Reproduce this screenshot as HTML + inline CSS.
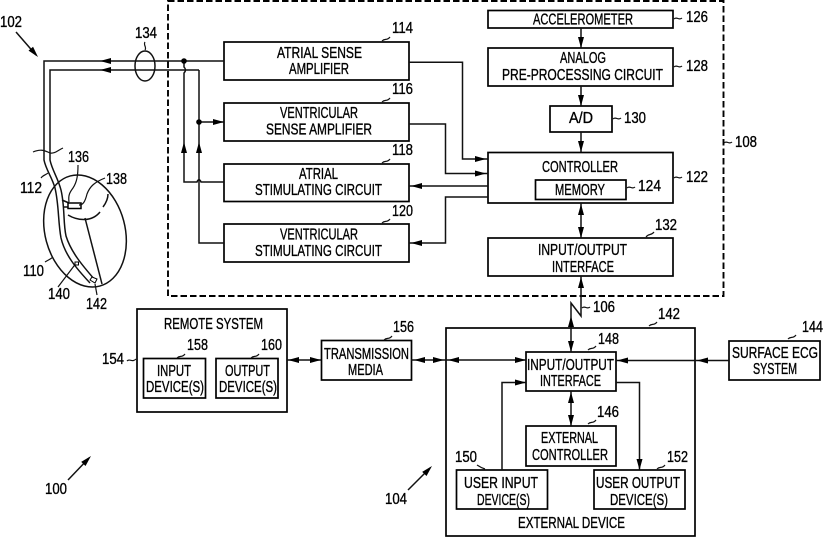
<!DOCTYPE html>
<html>
<head>
<meta charset="utf-8">
<style>
html,body{margin:0;padding:0;background:#fff;}
svg{display:block;}
text{font-family:"Liberation Sans",sans-serif;font-size:16px;fill:#000;stroke:#000;stroke-width:.35;}
.b{fill:none;stroke:#000;stroke-width:1.7;}
.l{fill:none;stroke:#111;stroke-width:1.5;}
.t{fill:none;stroke:#111;stroke-width:1.2;}
</style>
</head>
<body>
<svg width="824" height="537" viewBox="0 0 824 537" xmlns="http://www.w3.org/2000/svg">
<defs><polygon id="h" points="0,0 -11,-3 -11,3" fill="#000"/></defs>

<!-- dashed enclosure -->
<rect x="168" y="1" width="555.5" height="295" fill="none" stroke="#000" stroke-width="1.9" stroke-dasharray="6.5 3"/>

<!-- boxes -->
<rect class="b" x="224" y="42" width="185" height="38"/>
<rect class="b" x="224" y="103" width="185" height="38"/>
<rect class="b" x="224" y="164" width="185" height="37.5"/>
<rect class="b" x="224" y="224" width="185" height="38"/>
<rect class="b" x="488" y="10.5" width="185" height="17.5"/>
<rect class="b" x="488" y="48" width="185" height="38"/>
<rect class="b" x="550" y="106" width="62" height="26"/>
<rect class="b" x="488" y="152.5" width="185" height="50.5"/>
<rect class="b" x="535.5" y="180" width="90.5" height="19.5"/>
<rect class="b" x="488" y="238" width="185" height="38"/>
<rect class="b" x="446" y="328" width="249" height="208"/>
<rect class="b" x="526" y="352" width="90" height="39"/>
<rect class="b" x="526" y="426" width="90" height="40"/>
<rect class="b" x="456.5" y="470" width="91" height="39"/>
<rect class="b" x="594" y="470" width="91" height="39"/>
<rect class="b" x="729" y="341" width="91" height="39"/>
<rect class="b" x="137" y="309" width="150" height="103"/>
<rect class="b" x="143.5" y="358.5" width="62" height="39.5"/>
<rect class="b" x="216" y="358.5" width="62" height="39.5"/>
<rect class="b" x="321.5" y="340.5" width="90" height="39.5"/>

<!-- lead wires -->
<path class="l" d="M224,61 H44 V160 C46,170 52,177 55,188 C59,205 58,222 61,238 C65,255 76,268 90,283"/>
<path class="l" d="M199,70 H50 V160 C52,170 58,178 61,190 C65,207 63,222 66,236 C71,252 82,265 95,280"/>
<path class="l" d="M184,61 V67 C186,69 186,71 184,73 V182 H197 C198,179 200,179 201,182 H224"/>
<path class="l" d="M199,70 V243 H224"/>
<path class="l" d="M199,122 H224"/>
<circle cx="184" cy="61" r="2.8" fill="#000"/>
<circle cx="199" cy="122" r="2.8" fill="#000"/>
<use href="#h" transform="translate(100,61) rotate(180)"/>
<use href="#h" transform="translate(100,70) rotate(180)"/>
<use href="#h" transform="translate(224,122)"/>
<use href="#h" transform="translate(184,142) rotate(-90)"/>
<use href="#h" transform="translate(199,142) rotate(-90)"/>
<ellipse class="l" cx="145" cy="66" rx="10" ry="15"/>

<!-- heart -->
<ellipse class="l" cx="85" cy="231" rx="40" ry="57" transform="rotate(-15 85 231)"/>
<path class="t" d="M33,152 C40,149 44,150 50,153 C55,154 58,150 63,148"/>
<path class="l" d="M62,200 L69,203 M63,207 L69,207"/>
<rect x="68" y="203" width="13" height="5.5" fill="#fff" stroke="#000" stroke-width="1.5"/>
<path class="t" d="M78,165 C78,175 77,182 73,188 C70,192 68,195 69,202"/>
<path class="t" d="M105,178 C95,182 90,186 87,194 C85,202 83,205 79,205"/>
<path class="l" d="M68,215 C78,221 92,222 100,212"/>
<path class="l" d="M103,207 C106,203 108,198 108,194"/>
<path class="l" d="M85,218 L102,284"/>
<path class="t" d="M58,287 L77,262"/>
<path class="t" d="M97,295 L95,284"/>
<path class="t" d="M41,178 C43,175 46,175 48,173"/>
<path class="t" d="M45,262 C48,260 51,259 53,257"/>
<polygon points="90,280 95,283 97,279 92,277" fill="#fff" stroke="#000"/>
<rect x="75" y="262" width="3.5" height="3" fill="#fff" stroke="#000" stroke-width="1"/>

<!-- right side connectors -->
<path class="l" d="M409,62.3 H462.5 V159 H488"/>
<use href="#h" transform="translate(486,159)"/>
<path class="l" d="M409,124 H445.5 V173.5 H488"/>
<use href="#h" transform="translate(486,173.5)"/>
<path class="l" d="M488,186 H409"/>
<use href="#h" transform="translate(411,186) rotate(180)"/>
<path class="l" d="M488,197 H445.5 V243 H409"/>
<use href="#h" transform="translate(411,243) rotate(180)"/>

<path class="l" d="M581,28 V48"/><use href="#h" transform="translate(581,48) rotate(90)"/>
<path class="l" d="M581,86 V106"/><use href="#h" transform="translate(581,106) rotate(90)"/>
<path class="l" d="M581,132 V152"/><use href="#h" transform="translate(581,152) rotate(90)"/>
<path class="l" d="M581,203 V238"/><use href="#h" transform="translate(581,238) rotate(90)"/><use href="#h" transform="translate(581,204) rotate(-90)"/>
<path class="l" d="M581,276 V316 L571,303 V352"/>
<use href="#h" transform="translate(581,277) rotate(-90)"/>
<use href="#h" transform="translate(571,352) rotate(90)"/>
<use href="#h" transform="translate(571,316) rotate(-90)"/>

<!-- lower connectors -->
<path class="l" d="M287,360 H321"/>
<use href="#h" transform="translate(288,360) rotate(180)"/><use href="#h" transform="translate(321,360)"/>
<path class="l" d="M411,360 H526"/>
<use href="#h" transform="translate(414,360) rotate(180)"/>
<use href="#h" transform="translate(444,360)"/>
<use href="#h" transform="translate(448,360) rotate(180)"/>
<use href="#h" transform="translate(526,360)"/>
<path class="l" d="M616,360.5 H729"/>
<use href="#h" transform="translate(617,360.5) rotate(180)"/>
<use href="#h" transform="translate(697,360.5) rotate(180)"/>
<path class="l" d="M502,470 V382.5 H526"/><use href="#h" transform="translate(526,382.5)"/>
<path class="l" d="M616,382.5 H639.5 V470"/><use href="#h" transform="translate(639.5,470) rotate(90)"/>
<path class="l" d="M571,391 V426"/><use href="#h" transform="translate(571,392) rotate(-90)"/><use href="#h" transform="translate(571,426) rotate(90)"/>

<!-- pointer arrows -->
<path class="l" d="M16,32 L36,55"/><use href="#h" transform="translate(38,57) rotate(49)"/>
<path class="l" d="M68,480 L89,458"/><use href="#h" transform="translate(91,456) rotate(-46)"/>
<path class="l" d="M408,490 L430,468"/><use href="#h" transform="translate(432,466) rotate(-46)"/>

<!-- leader tildes -->
<g>
<path class="t" d="M382,41 C385,38 387,41 390,37"/>
<path class="t" d="M382,102 C385,99 387,102 390,98"/>
<path class="t" d="M382,163 C385,160 387,163 390,159"/>
<path class="t" d="M382,223 C385,220 387,223 390,219"/>
<path class="t" d="M674,19 C677,16 679,21 682,18"/>
<path class="t" d="M674,67 C677,64 679,69 682,66"/>
<path class="t" d="M613,119 C616,116 618,121 621,118"/>
<path class="t" d="M724,143 C727,140 729,145 732,142"/>
<path class="t" d="M674,178 C677,175 679,180 682,177"/>
<path class="t" d="M627,188 C630,185 632,190 635,187"/>
<path class="t" d="M646,237 C649,233 651,236 654,232"/>
<path class="t" d="M582,308 C585,305 587,310 590,307"/>
<path class="t" d="M649,326 C652,323 654,326 657,322"/>
<path class="t" d="M588,350 C591,347 593,350 596,346"/>
<path class="t" d="M588,424 C591,421 593,424 596,420"/>
<path class="t" d="M788,339 C791,336 793,339 796,335"/>
<path class="t" d="M477,465 C480,467 482,468 485,469"/>
<path class="t" d="M657,469 C660,466 662,469 665,465"/>
<path class="t" d="M127,361 C130,358 132,363 136,359"/>
<path class="t" d="M177,358 C180,355 182,358 185,354"/>
<path class="t" d="M251,358 C254,355 256,358 259,354"/>
<path class="t" d="M384,340 C387,337 389,340 392,336"/>
<path class="t" d="M145,42 C143,45 147,47 145,50"/>
</g>

<!-- labels -->
<text x="277" y="58" textLength="85" lengthAdjust="spacingAndGlyphs">ATRIAL SENSE</text>
<text x="289" y="74" textLength="60" lengthAdjust="spacingAndGlyphs">AMPLIFIER</text>
<text x="280" y="118" textLength="78" lengthAdjust="spacingAndGlyphs">VENTRICULAR</text>
<text x="266" y="134.5" textLength="106" lengthAdjust="spacingAndGlyphs">SENSE AMPLIFIER</text>
<text x="299" y="179" textLength="39" lengthAdjust="spacingAndGlyphs">ATRIAL</text>
<text x="255" y="195" textLength="127" lengthAdjust="spacingAndGlyphs">STIMULATING CIRCUIT</text>
<text x="280" y="239.5" textLength="78" lengthAdjust="spacingAndGlyphs">VENTRICULAR</text>
<text x="255" y="256" textLength="127" lengthAdjust="spacingAndGlyphs">STIMULATING CIRCUIT</text>
<text x="392" y="33" textLength="21" lengthAdjust="spacingAndGlyphs">114</text>
<text x="392" y="94" textLength="21" lengthAdjust="spacingAndGlyphs">116</text>
<text x="392" y="155" textLength="21" lengthAdjust="spacingAndGlyphs">118</text>
<text x="392" y="216" textLength="21" lengthAdjust="spacingAndGlyphs">120</text>
<text x="533" y="24.5" textLength="100" lengthAdjust="spacingAndGlyphs">ACCELEROMETER</text>
<text x="686" y="22" textLength="22" lengthAdjust="spacingAndGlyphs">126</text>
<text x="560" y="63" textLength="46" lengthAdjust="spacingAndGlyphs">ANALOG</text>
<text x="502" y="80" textLength="161" lengthAdjust="spacingAndGlyphs">PRE-PROCESSING CIRCUIT</text>
<text x="686" y="71" textLength="22" lengthAdjust="spacingAndGlyphs">128</text>
<text x="569" y="123" textLength="24" lengthAdjust="spacingAndGlyphs">A/D</text>
<text x="624" y="123" textLength="22" lengthAdjust="spacingAndGlyphs">130</text>
<text x="735" y="147" textLength="22" lengthAdjust="spacingAndGlyphs">108</text>
<text x="542" y="172" textLength="76" lengthAdjust="spacingAndGlyphs">CONTROLLER</text>
<text x="555" y="195" textLength="50" lengthAdjust="spacingAndGlyphs">MEMORY</text>
<text x="638" y="191" textLength="23" lengthAdjust="spacingAndGlyphs">124</text>
<text x="686" y="182" textLength="22" lengthAdjust="spacingAndGlyphs">122</text>
<text x="655" y="230" textLength="22" lengthAdjust="spacingAndGlyphs">132</text>
<text x="538" y="255" textLength="89" lengthAdjust="spacingAndGlyphs">INPUT/OUTPUT</text>
<text x="552" y="272" textLength="62" lengthAdjust="spacingAndGlyphs">INTERFACE</text>
<text x="593" y="312" textLength="22" lengthAdjust="spacingAndGlyphs">106</text>
<text x="658" y="319" textLength="22" lengthAdjust="spacingAndGlyphs">142</text>
<text x="598" y="344" textLength="21" lengthAdjust="spacingAndGlyphs">148</text>
<text x="802" y="332" textLength="21" lengthAdjust="spacingAndGlyphs">144</text>
<text x="527" y="370" textLength="87" lengthAdjust="spacingAndGlyphs">INPUT/OUTPUT</text>
<text x="540" y="386" textLength="61" lengthAdjust="spacingAndGlyphs">INTERFACE</text>
<text x="597" y="417" textLength="22" lengthAdjust="spacingAndGlyphs">146</text>
<text x="541" y="443" textLength="57" lengthAdjust="spacingAndGlyphs">EXTERNAL</text>
<text x="532" y="460" textLength="76" lengthAdjust="spacingAndGlyphs">CONTROLLER</text>
<text x="455" y="462" textLength="22" lengthAdjust="spacingAndGlyphs">150</text>
<text x="667" y="462" textLength="21" lengthAdjust="spacingAndGlyphs">152</text>
<text x="464" y="488" textLength="74" lengthAdjust="spacingAndGlyphs">USER INPUT</text>
<text x="477" y="505" textLength="53" lengthAdjust="spacingAndGlyphs">DEVICE(S)</text>
<text x="596" y="488" textLength="84" lengthAdjust="spacingAndGlyphs">USER OUTPUT</text>
<text x="610" y="505" textLength="58" lengthAdjust="spacingAndGlyphs">DEVICE(S)</text>
<text x="518" y="528" textLength="107" lengthAdjust="spacingAndGlyphs">EXTERNAL DEVICE</text>
<text x="732" y="358" textLength="86" lengthAdjust="spacingAndGlyphs">SURFACE ECG</text>
<text x="753" y="374" textLength="44" lengthAdjust="spacingAndGlyphs">SYSTEM</text>
<text x="164" y="329" textLength="99" lengthAdjust="spacingAndGlyphs">REMOTE SYSTEM</text>
<text x="187" y="350" textLength="21" lengthAdjust="spacingAndGlyphs">158</text>
<text x="261" y="350" textLength="21" lengthAdjust="spacingAndGlyphs">160</text>
<text x="102" y="364" textLength="22" lengthAdjust="spacingAndGlyphs">154</text>
<text x="157" y="376" textLength="34" lengthAdjust="spacingAndGlyphs">INPUT</text>
<text x="146" y="392" textLength="58" lengthAdjust="spacingAndGlyphs">DEVICE(S)</text>
<text x="225" y="376" textLength="45" lengthAdjust="spacingAndGlyphs">OUTPUT</text>
<text x="219" y="392" textLength="58" lengthAdjust="spacingAndGlyphs">DEVICE(S)</text>
<text x="393" y="332" textLength="21" lengthAdjust="spacingAndGlyphs">156</text>
<text x="324" y="359" textLength="85" lengthAdjust="spacingAndGlyphs">TRANSMISSION</text>
<text x="348" y="375" textLength="35" lengthAdjust="spacingAndGlyphs">MEDIA</text>
<text x="45" y="494" textLength="22" lengthAdjust="spacingAndGlyphs">100</text>
<text x="385" y="504" textLength="22" lengthAdjust="spacingAndGlyphs">104</text>
<text x="0" y="27" textLength="22" lengthAdjust="spacingAndGlyphs">102</text>
<text x="135" y="38" textLength="22" lengthAdjust="spacingAndGlyphs">134</text>
<text x="68" y="162" textLength="21" lengthAdjust="spacingAndGlyphs">136</text>
<text x="106" y="184" textLength="21" lengthAdjust="spacingAndGlyphs">138</text>
<text x="20" y="193" textLength="22" lengthAdjust="spacingAndGlyphs">112</text>
<text x="23" y="276" textLength="21" lengthAdjust="spacingAndGlyphs">110</text>
<text x="48" y="299" textLength="22" lengthAdjust="spacingAndGlyphs">140</text>
<text x="86" y="309" textLength="21" lengthAdjust="spacingAndGlyphs">142</text>
</svg>
</body>
</html>
